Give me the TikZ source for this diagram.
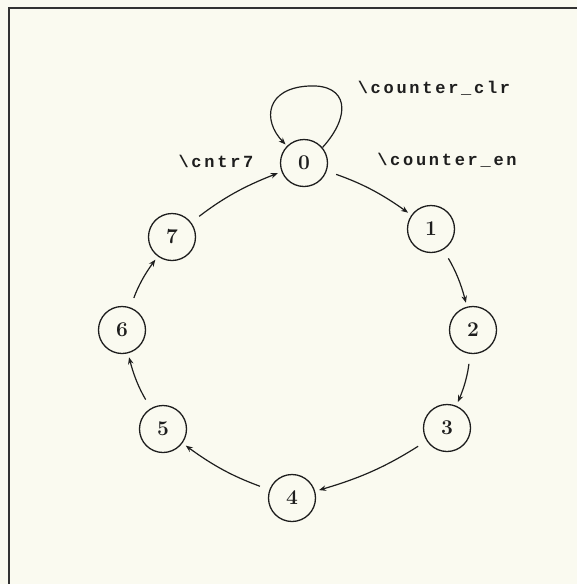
\documentclass[tikz,border=0pt]{standalone}
\usepackage{fontspec}
\usetikzlibrary{backgrounds,arrows.meta}
\newfontfamily\dotfont[LetterSpace=16]{Liberation Mono Bold}
\definecolor{paper}{RGB}{250,250,240}
\definecolor{ink}{RGB}{30,30,30}
\definecolor{frameline}{RGB}{50,50,50}

\begin{document}
\begin{tikzpicture}[x=1pt, y=1pt, >={Stealth[length=7pt,width=5.5pt]},
    state/.style={draw=ink, circle, line width=1.3pt, minimum width=47pt, minimum height=47pt, inner sep=0pt, font=\bfseries\fontsize{21}{21}\selectfont, text=ink},
    trans/.style={draw=ink, line width=1.2pt, ->, shorten <=10pt, shorten >=4pt, bend left=8},
    sig/.style={font=\dotfont\fontsize{17}{17}\selectfont, text=ink}]

    % 1. Page and frame
    \useasboundingbox (0,0) rectangle (577,-584);
    \fill[paper] (0,0) rectangle (577,-584);
    \draw[color=frameline, line width=2.6pt] (9,-584) -- (9,-8) -- (577,-8);

    % 2. States of the counter
    \foreach \name/\x/\y in {0/304/163, 1/431/229, 2/473/330, 3/447/428, 4/292/498, 5/163/429, 6/122/330, 7/172/237} {
        \node[state] (s\name) at (\x,-\y) {\name};
    }

    % 3. Transitions round the ring
    \foreach \a/\b in {0/1, 1/2, 2/3, 3/4, 4/5, 5/6, 6/7, 7/0} {
        \draw[trans] (s\a) to (s\b);
    }

    % self loop on the reset state
    \draw[color=ink, line width=1.2pt, ->, shorten >=2pt]
        (s0.40) .. controls (352,-115) and (348,-84) .. (309,-86)
        .. controls (266,-88) and (262,-120) .. (s0.135);

    % 4. Signal names
    \node[sig] (clr) at (434,-88) {\textbackslash counter\_clr};
    \node[sig] (en) at (447,-160) {\textbackslash counter\_en};
    \node[sig] (wrap) at (216,-161) {\textbackslash cntr7};

\end{tikzpicture}
\end{document}
